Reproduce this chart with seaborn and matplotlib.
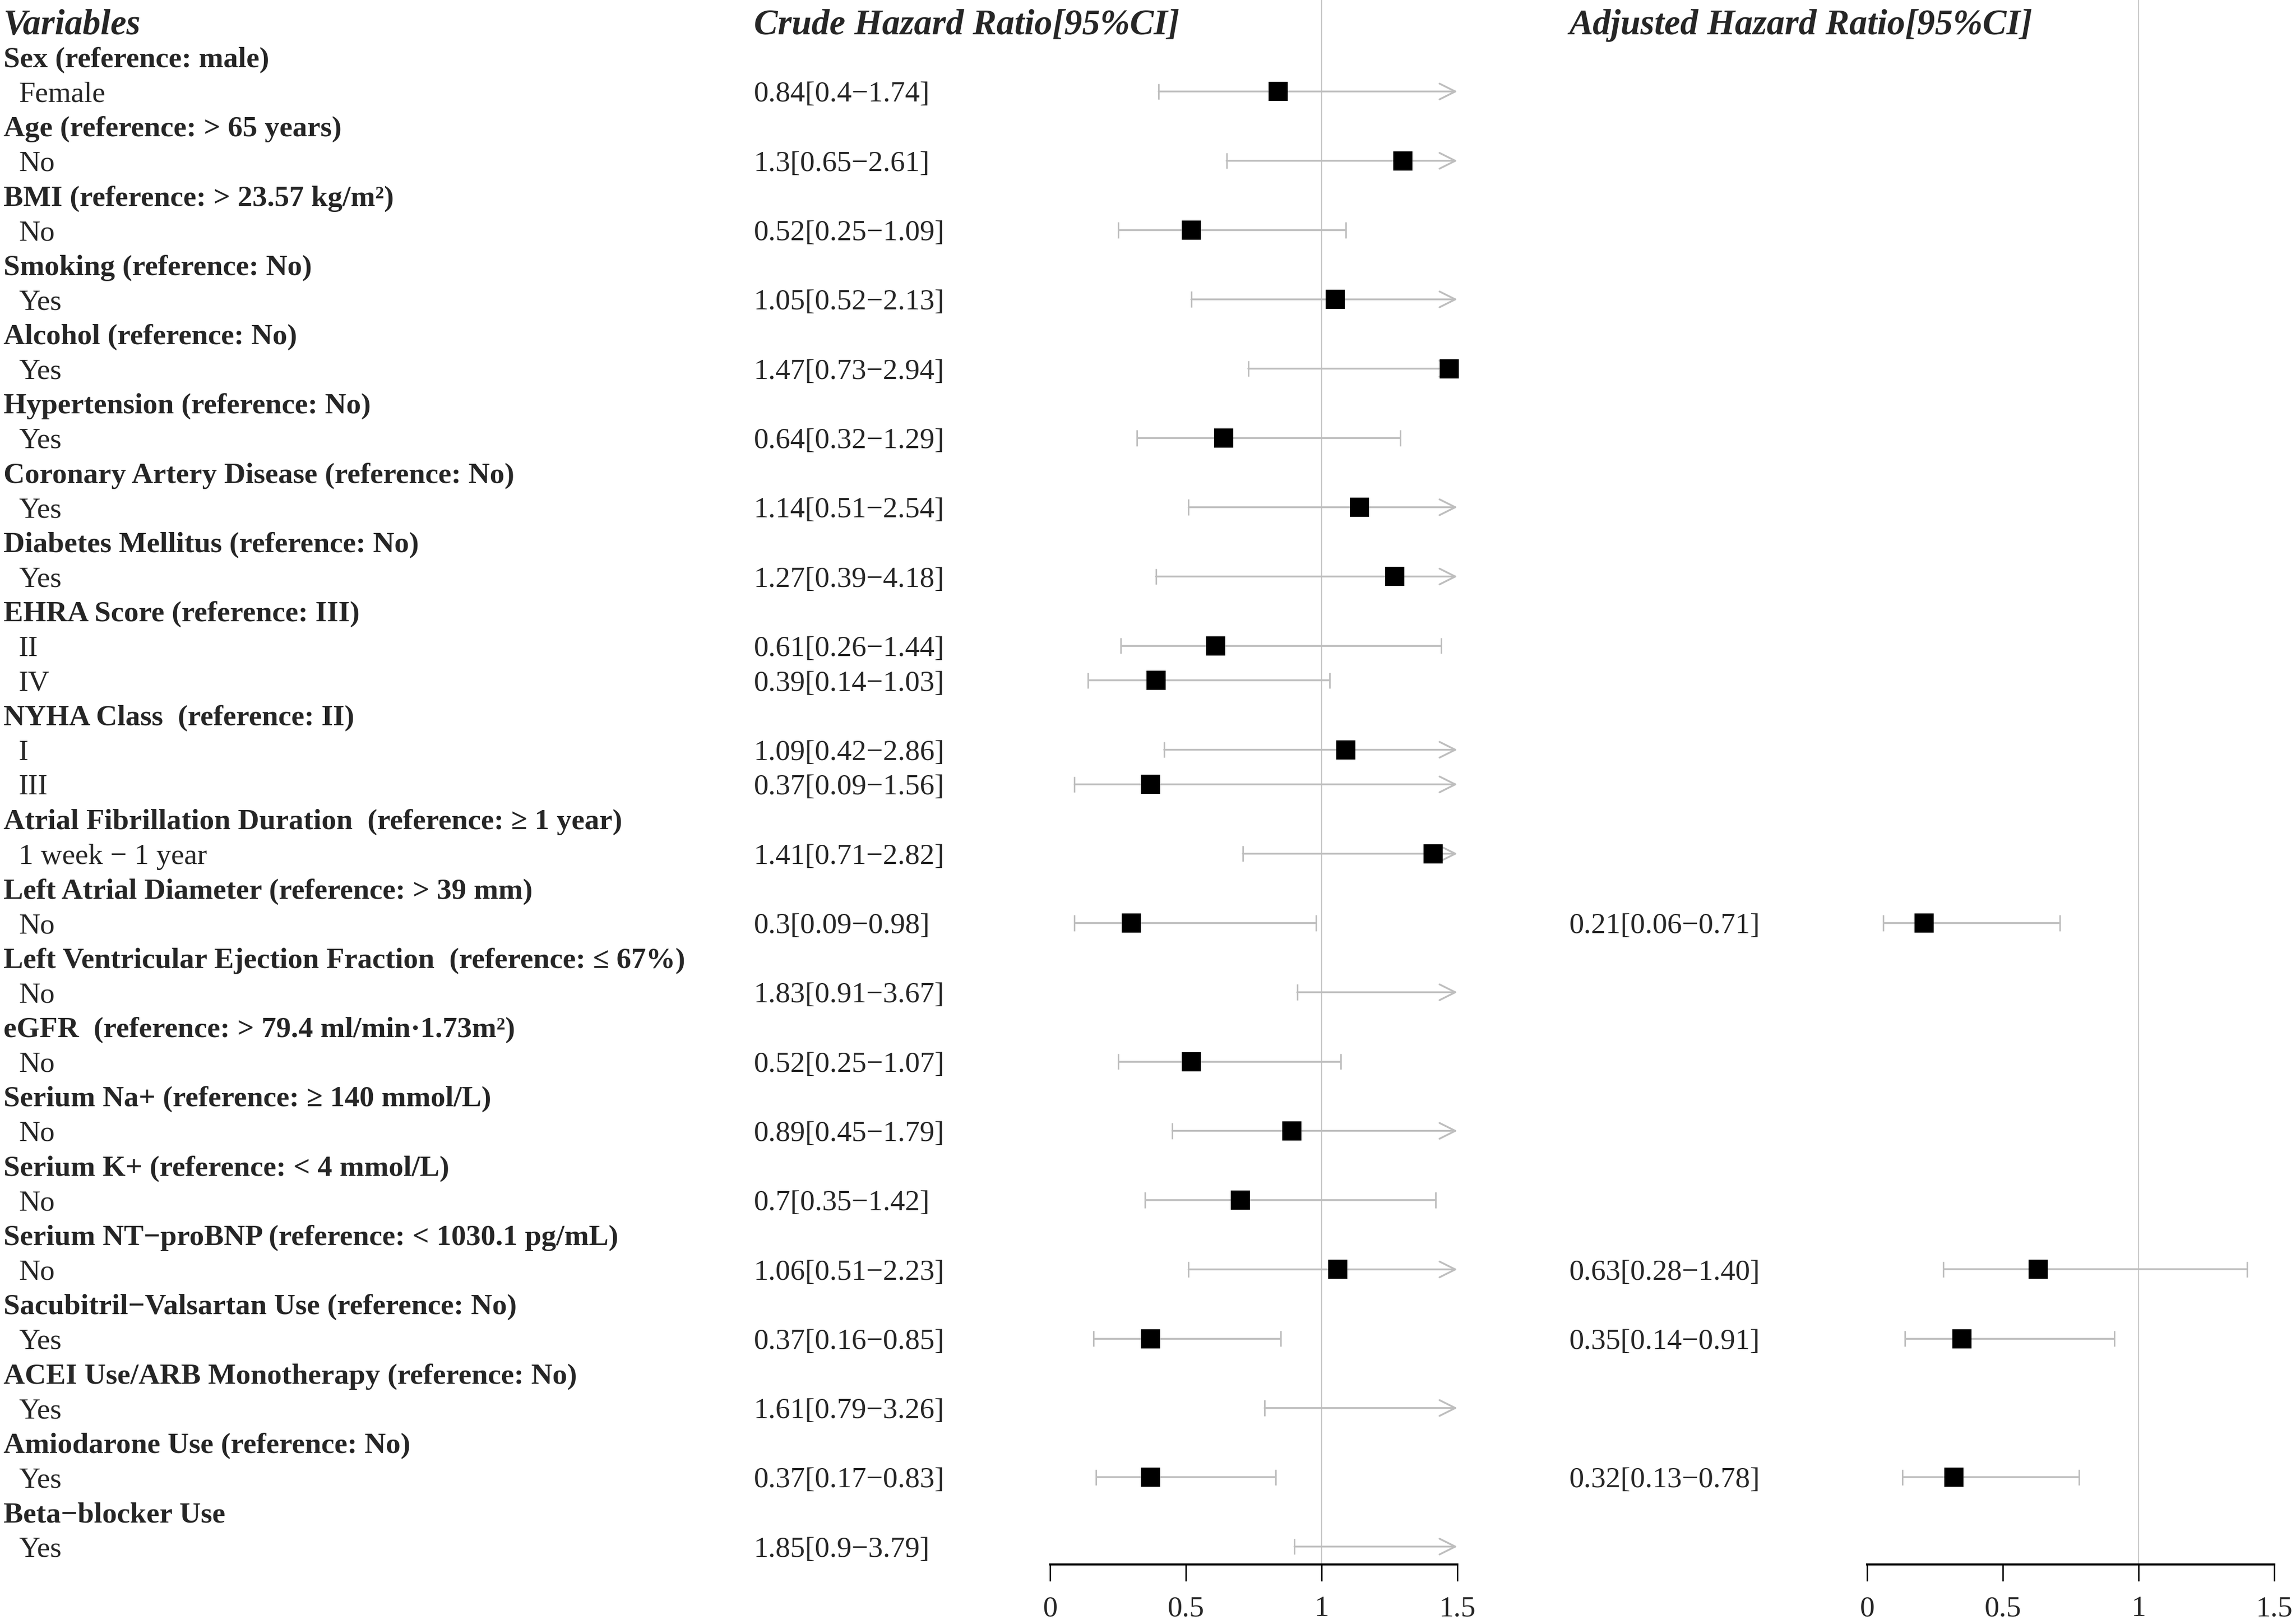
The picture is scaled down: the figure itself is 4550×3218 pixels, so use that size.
import numpy as np
import pandas as pd
import matplotlib
matplotlib.use("Agg")
import matplotlib.pyplot as plt
import seaborn as sns

# --- Data ---
headers = [
    "Sex (reference: male)",
    "Age (reference: > 65 years)",
    "BMI (reference: > 23.57 kg/m²)",
    "Smoking (reference: No)",
    "Alcohol (reference: No)",
    "Hypertension (reference: No)",
    "Coronary Artery Disease (reference: No)",
    "Diabetes Mellitus (reference: No)",
    "EHRA Score (reference: III)",
    "NYHA Class  (reference: II)",
    "Atrial Fibrillation Duration  (reference: ≥ 1 year)",
    "Left Atrial Diameter (reference: > 39 mm)",
    "Left Ventricular Ejection Fraction  (reference: ≤ 67%)",
    "eGFR  (reference: > 79.4 ml/min·1.73m²)",
    "Serium Na+ (reference: ≥ 140 mmol/L)",
    "Serium K+ (reference: < 4 mmol/L)",
    "Serium NT−proBNP (reference: < 1030.1 pg/mL)",
    "Sacubitril−Valsartan Use (reference: No)",
    "ACEI Use/ARB Monotherapy (reference: No)",
    "Amiodarone Use (reference: No)",
    "Beta−blocker Use",
]
levels = [
    ["Female"], ["No"], ["No"], ["Yes"], ["Yes"], ["Yes"], ["Yes"], ["Yes"],
    ["II", "IV"], ["I", "III"], ["1 week − 1 year"], ["No"], ["No"], ["No"],
    ["No"], ["No"], ["No"], ["Yes"], ["Yes"], ["Yes"], ["Yes"],
]

crude_hr = [0.84, 1.3, 0.52, 1.05, 1.47, 0.64, 1.14, 1.27, 0.61, 0.39, 1.09, 0.37,
            1.41, 0.3, 1.83, 0.52, 0.89, 0.7, 1.06, 0.37, 1.61, 0.37, 1.85]
crude_lo = [0.4, 0.65, 0.25, 0.52, 0.73, 0.32, 0.51, 0.39, 0.26, 0.14, 0.42, 0.09,
            0.71, 0.09, 0.91, 0.25, 0.45, 0.35, 0.51, 0.16, 0.79, 0.17, 0.9]
crude_hi = [1.74, 2.61, 1.09, 2.13, 2.94, 1.29, 2.54, 4.18, 1.44, 1.03, 2.86, 1.56,
            2.82, 0.98, 3.67, 1.07, 1.79, 1.42, 2.23, 0.85, 3.26, 0.83, 3.79]

nan = np.nan
adj_hr = [nan] * 13 + [0.21, nan, nan, nan, nan, 0.63, 0.35, nan, 0.32, nan]
adj_lo = [nan] * 13 + [0.06, nan, nan, nan, nan, 0.28, 0.14, nan, 0.13, nan]
adj_hi = [nan] * 13 + [0.71, nan, nan, nan, nan, 1.40, 0.91, nan, 0.78, nan]

x_ticks = [0, 0.5, 1, 1.5]
x_max = 1.5

# --- Build row table ---
rows = []
r = 1
k = 0
for h, lv in zip(headers, levels):
    rows.append(dict(row=r, label=h, header=True))
    r += 1
    for name in lv:
        rows.append(dict(row=r, label=name, header=False,
                         hr=crude_hr[k], lo=crude_lo[k], hi=crude_hi[k],
                         ahr=adj_hr[k], alo=adj_lo[k], ahi=adj_hi[k]))
        r += 1
        k += 1
df = pd.DataFrame(rows)
lv_df = df[~df['header']].copy()

# --- Figure ---
sns.set_theme(style="white")
plt.rcParams['font.family'] = ['Liberation Serif', 'DejaVu Serif']

W, H = 4550, 3218
fig = plt.figure(figsize=(W / 100, H / 100), dpi=100)
fs = 42
fs_head = 51
gray = '#bebebe'
row_px = 68.65
top_px = 44
dy = 0.09  # small downward nudge so text sits on the marker line

y_top = -top_px / row_px
y_bot_fig = (H - top_px) / row_px
axis_px = 3100
y_bot_ax = (axis_px - top_px) / row_px

# text layer
tax = fig.add_axes([0, 0, 1, 1])
tax.set_xlim(0, W)
tax.set_ylim(y_bot_fig, y_top)
tax.axis('off')

tax.text(7, dy, "Variables", fontsize=fs_head, fontweight='bold', fontstyle='italic', va='center')
tax.text(1494, dy, "Crude Hazard Ratio[95%CI]", fontsize=fs_head, fontweight='bold', fontstyle='italic', va='center')
tax.text(3110, dy, "Adjusted Hazard Ratio[95%CI]", fontsize=fs_head, fontweight='bold', fontstyle='italic', va='center')

for _, row in df.iterrows():
    y = row['row'] + dy
    if row['header']:
        tax.text(7, y, row['label'], fontsize=fs, fontweight='bold', va='center')
    else:
        tax.text(37, y, row['label'], fontsize=fs, va='center')
        tax.text(1494, y, f"{row['hr']:g}[{row['lo']:g}−{row['hi']:g}]",
                 fontsize=fs, va='center')
        if not np.isnan(row['ahr']):
            tax.text(3110, y, f"{row['ahr']:.2f}[{row['alo']:.2f}−{row['ahi']:.2f}]",
                     fontsize=fs, va='center')


def forest(ax, d, hr, lo, hi):
    d = d.dropna(subset=[hr])
    ax.axvline(1, color='#c8c8c8', lw=1.6, zorder=0)
    cap = 0.23
    for _, row in d.iterrows():
        y = row['row']
        lo_v, hi_v = row[lo], row[hi]
        ax.vlines(lo_v, y - cap, y + cap, color=gray, lw=2.2, zorder=1)
        if hi_v > x_max:
            ax.annotate('', xy=(x_max, y), xytext=(lo_v, y),
                        arrowprops=dict(arrowstyle='->, head_length=0.5, head_width=0.25',
                                        color=gray, lw=2.6, mutation_scale=45,
                                        shrinkA=0, shrinkB=0), zorder=1)
        else:
            ax.hlines(y, lo_v, hi_v, color=gray, lw=2.6, zorder=1)
            ax.vlines(hi_v, y - cap, y + cap, color=gray, lw=2.2, zorder=1)
    pts = d[d[hr] <= x_max]
    sns.scatterplot(data=pts, x=hr, y='row', marker='s', color='black', s=760,
                    linewidth=0, legend=False, ax=ax, zorder=3)
    for c in ax.collections:
        c.set_clip_on(False)
    ax.set_xlim(0, x_max)
    ax.set_ylim(y_bot_ax, y_top)
    ax.set_xlabel('')
    ax.set_ylabel('')
    ax.set_yticks([])
    ax.set_xticks(x_ticks)
    ax.set_xticklabels([f"{t:g}" for t in x_ticks], fontsize=fs)
    ax.tick_params(axis='x', direction='out', length=24, width=2, pad=21,
                   bottom=True, color='black')
    for s in ['top', 'left', 'right']:
        ax.spines[s].set_visible(False)
    ax.spines['bottom'].set_color('black')
    ax.spines['bottom'].set_linewidth(3)
    ax.patch.set_alpha(0)


ax_w = (2888 - 2081) / W
ax_b = 1 - axis_px / H
ax1 = fig.add_axes([2081 / W, ax_b, ax_w, axis_px / H])
forest(ax1, lv_df, 'hr', 'lo', 'hi')
ax2 = fig.add_axes([3700 / W, ax_b, ax_w, axis_px / H])
forest(ax2, lv_df, 'ahr', 'alo', 'ahi')

fig.savefig('out.png', dpi=100, facecolor='white')
